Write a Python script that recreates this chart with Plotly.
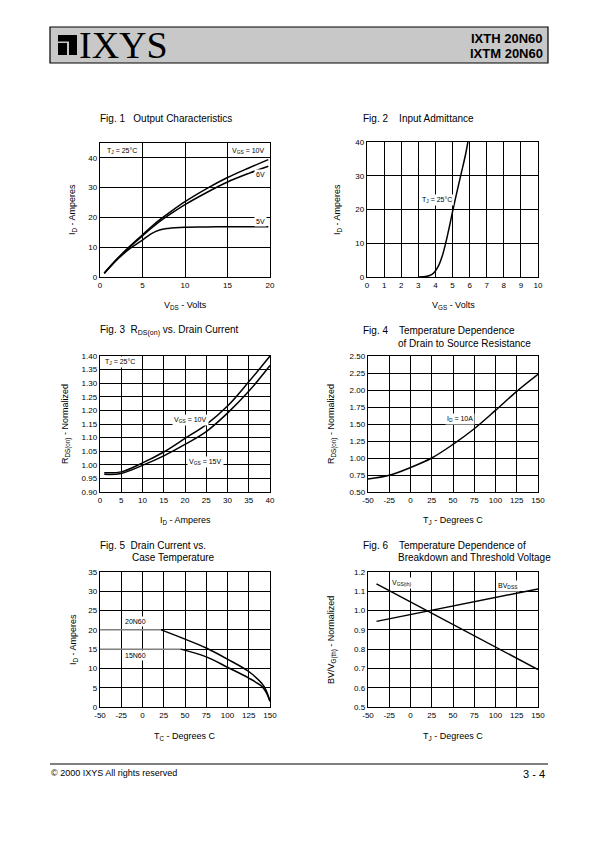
import plotly.graph_objects as go

W, H = 595, 842
def fx(p): return p / W
def fy(p): return 1 - p / H

FONT = "Liberation Sans Narrow, Liberation Sans, Arial, sans-serif"

# ---------- data ----------
# Fig 1 Output characteristics
f1_vds = [0.5, 2, 3.5, 5, 6, 7, 8, 10, 12.5, 15, 17.5, 19.8]
f1_id_10v = [1.3, 6.0, 10.3, 14.2, 16.8, 19.2, 21.3, 25.3, 29.6, 33.4, 36.6, 39.4]
f1_id_6v = [1.3, 6.0, 10.1, 13.8, 16.3, 18.6, 20.6, 24.3, 28.3, 31.9, 34.8, 37.2]
f1_id_5v = [1.3, 5.8, 9.5, 12.4, 14.5, 15.8, 16.3, 16.7, 16.8, 16.9, 16.9, 16.9]

# Fig 2 Input admittance
f2_vgs = [3.0, 3.5, 3.8, 4.0, 4.2, 4.4, 4.6, 4.8, 5.0, 5.25, 5.5, 5.75, 5.9]
f2_id = [0.0, 0.2, 0.8, 1.8, 3.5, 6.2, 10.0, 14.5, 19.3, 25.0, 30.5, 36.0, 40.0]

# Fig 3 RDS(on) vs drain current
f3_id = [1, 5, 10, 15, 20, 25, 30, 35, 40]
f3_r_10v = [0.971, 0.974, 1.007, 1.047, 1.097, 1.148, 1.216, 1.305, 1.400]
f3_r_15v = [0.965, 0.968, 0.998, 1.033, 1.075, 1.122, 1.190, 1.270, 1.365]

# Fig 4 RDS(on) vs temperature
f4_tj = [-50, -25, 0, 25, 50, 75, 100, 125, 150]
f4_r = [0.69, 0.745, 0.86, 1.0, 1.20, 1.43, 1.70, 1.98, 2.23]

# Fig 5 Drain current vs case temperature
f5_t_flat20 = [-50, 22]
f5_i_flat20 = [20, 20]
f5_t_20 = [22, 50, 75, 100, 125, 140, 145, 150]
f5_i_20 = [20, 17.6, 15.3, 12.4, 9.2, 6.2, 4.5, 1.5]
f5_t_flat15 = [-50, 45]
f5_i_flat15 = [15, 15]
f5_t_15 = [45, 75, 100, 125, 140, 145, 150]
f5_i_15 = [15, 13.0, 10.3, 7.5, 5.4, 4.0, 1.5]

# Fig 6 BV / VGS(th) vs temperature
f6_t = [-40, 150]
f6_vth = [1.138, 0.694]
f6_bv = [0.944, 1.112]

# tick labels for temperature axes (plain hyphen minus as printed)
temp_ticks = [-50, -25, 0, 25, 50, 75, 100, 125, 150]
temp_labels = ["-50", "-25", "0", "25", "50", "75", "100", "125", "150"]

fig = go.Figure()

# (suffix, x px span, y px span, x range, x dtick, y range, y dtick, y format, temp x)
axes = [
    ("", (100, 270), (143, 277), [0, 20], 5, [0, 45], 10, None, False),
    ("2", (367, 538), (142, 277), [0, 10], 1, [0, 40], 10, None, False),
    ("3", (100, 270), (356, 492), [0, 40], 5, [0.9, 1.4], 0.05, ".2f", False),
    ("4", (368, 538), (356, 492), [-50, 150], 25, [0.5, 2.5], 0.25, ".2f", True),
    ("5", (100, 270), (572, 707), [-50, 150], 25, [0, 35], 5, None, True),
    ("6", (368, 538), (572, 707), [-50, 150], 25, [0.5, 1.2], 0.1, ".1f", True),
]
for name, xd, yd, xr, xdt, yr, ydt, yfmt, temp in axes:
    common = dict(showgrid=True, gridcolor="black", gridwidth=1, showline=True,
                  linecolor="black", linewidth=1.3, mirror=True, zeroline=False,
                  ticks="", tickfont=dict(family=FONT, size=8, color="black"))
    xa = dict(domain=[fx(xd[0]), fx(xd[1])], range=xr, dtick=xdt, tick0=xr[0],
              anchor="y" + name, **common)
    if temp:
        xa.update(tickmode="array", tickvals=temp_ticks, ticktext=temp_labels)
    ya = dict(domain=[fy(yd[1]), fy(yd[0])], range=yr, dtick=ydt, tick0=yr[0],
              anchor="x" + name, **common)
    if yfmt:
        ya["tickformat"] = yfmt
    fig.update_layout(**{"xaxis" + name: xa, "yaxis" + name: ya})

def add(x, y, ax, color="black", shape="spline"):
    fig.add_trace(go.Scatter(x=x, y=y, mode="lines", xaxis="x" + ax, yaxis="y" + ax,
                             line=dict(color=color, width=1.5, shape=shape),
                             showlegend=False, hoverinfo="skip"))

add(f1_vds, f1_id_10v, "")
add(f1_vds, f1_id_6v, "")
add(f1_vds, f1_id_5v, "")
add(f2_vgs, f2_id, "2")
add(f3_id, f3_r_10v, "3")
add(f3_id, f3_r_15v, "3")
add(f4_tj, f4_r, "4")
add(f5_t_flat20, f5_i_flat20, "5", color="#808080", shape="linear")
add(f5_t_20, f5_i_20, "5")
add(f5_t_flat15, f5_i_flat15, "5", color="#808080", shape="linear")
add(f5_t_15, f5_i_15, "5")
add(f6_t, f6_vth, "6", shape="linear")
add(f6_t, f6_bv, "6", shape="linear")

ann = []
def ptext(x, y, text, size=9, xanchor="left", yanchor="middle", angle=0, family=FONT):
    ann.append(dict(x=fx(x), y=fy(y), xref="paper", yref="paper", text=text,
                    showarrow=False, xanchor=xanchor, yanchor=yanchor, textangle=angle,
                    borderpad=0,
                    font=dict(family=family, size=size, color="black")))

# titles
ptext(99, 118, "Fig. 1   Output Characteristics", 10)
ptext(362, 118, "Fig. 2    Input Admittance", 10)
ptext(99, 330, "Fig. 3  R<sub>DS(on)</sub> vs. Drain Current", 10)
ptext(362, 330, "Fig. 4    Temperature Dependence", 10)
ptext(397, 343, "of Drain to Source Resistance", 10)
ptext(99, 545, "Fig. 5  Drain Current vs.", 10)
ptext(131, 557, "Case Temperature", 10)
ptext(362, 545, "Fig. 6    Temperature Dependence of", 10)
ptext(397, 557, "Breakdown and Threshold Voltage", 10)

# x axis titles
ptext(185, 305, "V<sub>DS</sub> - Volts", 9, "center")
ptext(453, 305, "V<sub>GS</sub> - Volts", 9, "center")
ptext(185, 520, "I<sub>D</sub> - Amperes", 9, "center")
ptext(453, 520, "T<sub>J</sub> - Degrees C", 9, "center")
ptext(185, 736, "T<sub>C</sub> - Degrees C", 9, "center")
ptext(453, 736, "T<sub>J</sub> - Degrees C", 9, "center")

# y axis titles
ptext(73, 210, "I<sub>D</sub> - Amperes", 9, "center", angle=-90)
ptext(338, 210, "I<sub>D</sub> - Amperes", 9, "center", angle=-90)
ptext(66, 424, "R<sub>DS(on)</sub> - Normalized", 9, "center", angle=-90)
ptext(332, 424, "R<sub>DS(on)</sub> - Normalized", 9, "center", angle=-90)
ptext(73, 640, "I<sub>D</sub> - Amperes", 9, "center", angle=-90)
ptext(332, 640, "BV/V<sub>G(th)</sub> - Normalized", 9, "center", angle=-90)

# in-plot labels (data coordinates), white background like the printed sheet
def dtext(ax, x, y, text, xanchor="left", size=7):
    ann.append(dict(x=x, y=y, xref="x" + ax, yref="y" + ax, text=text, showarrow=False,
                    xanchor=xanchor, yanchor="middle", borderpad=1, bgcolor="white",
                    font=dict(family=FONT, size=size, color="black")))

dtext("", 0.6, 42.4, "T<sub>J</sub> = 25°C")
dtext("", 19.6, 42.4, "V<sub>GS</sub> = 10V", "right")
dtext("", 19.6, 34.3, "6V", "right")
dtext("", 19.6, 18.6, "5V", "right")
dtext("2", 3.1, 22.8, "T<sub>J</sub> = 25°C")
dtext("3", 0.6, 1.378, "T<sub>J</sub> = 25°C")
dtext("3", 17.0, 1.165, "V<sub>GS</sub> = 10V")
dtext("3", 20.5, 1.012, "V<sub>GS</sub> = 15V")
dtext("4", 40, 1.57, "I<sub>D</sub> = 10A")
dtext("5", -23, 22.2, "20N60")
dtext("5", -23, 13.4, "15N60")
dtext("6", -24, 1.145, "V<sub>GS(th)</sub>")
dtext("6", 101, 1.13, "BV<sub>DSS</sub>")

# header
G = "#c8c8c8"
shapes = [
    dict(type="rect", xref="paper", yref="paper", x0=fx(50), x1=fx(548), y0=fy(63), y1=fy(27),
         fillcolor=G, line=dict(color="black", width=1.2), layer="below"),
    # logo mark
    dict(type="rect", xref="paper", yref="paper", x0=fx(58), x1=fx(77), y0=fy(55), y1=fy(35),
         fillcolor="black", line=dict(width=0)),
    dict(type="rect", xref="paper", yref="paper", x0=fx(58), x1=fx(67), y0=fy(43), y1=fy(41.5),
         fillcolor=G, line=dict(width=0)),
    dict(type="rect", xref="paper", yref="paper", x0=fx(67), x1=fx(69), y0=fy(55), y1=fy(41.5),
         fillcolor=G, line=dict(width=0)),
    # footer rule
    dict(type="line", xref="paper", yref="paper", x0=fx(50), x1=fx(548), y0=fy(764), y1=fy(764),
         line=dict(color="black", width=1)),
]
ptext(78, 45, "IXYS", 38, "left", family="Liberation Serif, Times New Roman, serif")
ptext(544, 38, "<b>IXTH 20N60</b>", 13, "right")
ptext(544, 54, "<b>IXTM 20N60</b>", 13, "right")

# footer
ptext(50, 773, "© 2000 IXYS All rights reserved", 9)
ptext(546, 774, "3 - 4", 11, "right")

fig.update_layout(width=W, height=H, margin=dict(l=0, r=0, t=0, b=0, autoexpand=False),
                  paper_bgcolor="white", plot_bgcolor="white",
                  annotations=ann, shapes=shapes, showlegend=False)

fig.write_html("out.html", config={"displayModeBar": False, "staticPlot": True},
               post_script="document.body.style.margin='0';")
